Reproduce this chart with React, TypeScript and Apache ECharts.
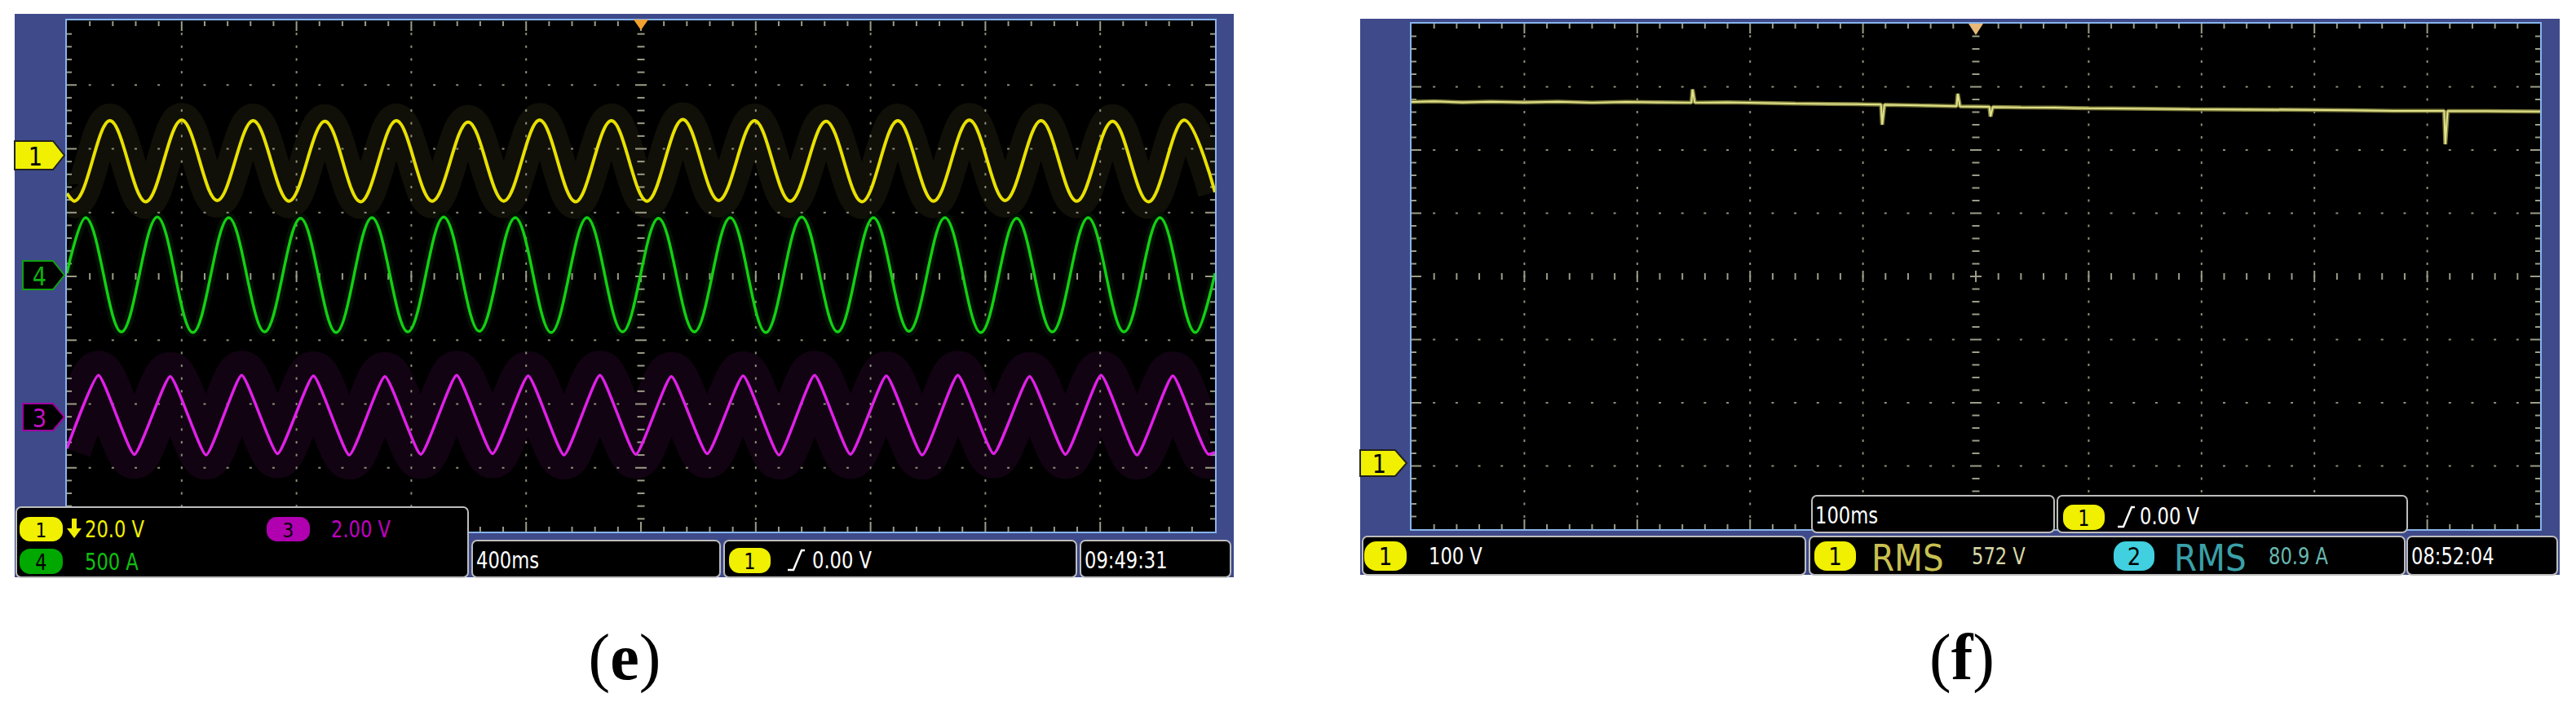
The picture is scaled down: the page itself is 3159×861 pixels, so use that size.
import React, { useEffect, useRef } from "react";
import * as echarts from "echarts";

// ---------- Panel (e): 400 ms/div (0..4000 ms), levels in screen divisions (centre = 0) ----------
const eTimeRange = [0, 4000];
const eDivRange = [-4, 4];

// Channel 1 (yellow, 20.0 V/div): start, then trough/peak extremes
const ch1Times = [0, 25, 150, 275, 400, 524, 649, 774, 899, 1023, 1148, 1273, 1398, 1522, 1647, 1772, 1897, 2021, 2146, 2271, 2396, 2520, 2645, 2770, 2895, 3019, 3144, 3269, 3394, 3518, 3643, 3768, 3893, 4000];
const ch1Levels = [1.3, 1.18, 2.44, 1.17, 2.45, 1.19, 2.44, 1.18, 2.43, 1.17, 2.44, 1.18, 2.42, 1.18, 2.45, 1.17, 2.44, 1.18, 2.46, 1.19, 2.44, 1.18, 2.43, 1.17, 2.44, 1.18, 2.45, 1.19, 2.44, 1.18, 2.43, 1.17, 2.45, 1.32];

// Channel 4 (green, 500 A/div)
const ch4Times = [0, 65, 190, 315, 439, 564, 689, 814, 938, 1063, 1188, 1313, 1437, 1562, 1687, 1812, 1936, 2061, 2186, 2311, 2435, 2560, 2685, 2810, 2934, 3059, 3184, 3309, 3433, 3558, 3683, 3808, 3932, 4000];
const ch4Levels = [0.05, 0.92, -0.87, 0.93, -0.88, 0.92, -0.87, 0.91, -0.88, 0.92, -0.87, 0.93, -0.86, 0.92, -0.88, 0.92, -0.87, 0.91, -0.87, 0.92, -0.88, 0.93, -0.87, 0.92, -0.86, 0.92, -0.88, 0.91, -0.87, 0.92, -0.87, 0.92, -0.88, 0.05];

// Channel 3 (magenta, 2.00 V/div)
const ch3Times = [0, 110, 235, 360, 485, 609, 734, 859, 984, 1108, 1233, 1358, 1483, 1607, 1732, 1857, 1982, 2106, 2231, 2356, 2481, 2605, 2730, 2855, 2980, 3104, 3229, 3354, 3479, 3603, 3728, 3853, 3978, 4000];
const ch3Levels = [-2.7, -1.55, -2.79, -1.57, -2.8, -1.55, -2.78, -1.56, -2.8, -1.57, -2.79, -1.55, -2.78, -1.56, -2.8, -1.55, -2.79, -1.57, -2.78, -1.56, -2.8, -1.55, -2.79, -1.56, -2.8, -1.55, -2.78, -1.57, -2.79, -1.55, -2.8, -1.56, -2.79, -2.76];

// ---------- Panel (f): 100 ms/div (0..1000 ms), channel 1 in volts (100 V/div, ground 2.94 div below centre) ----------
const fTimeRange = [0, 1000];
const fVoltRange = [-106, 694];
const fTimes = [0, 20, 45, 70, 100, 130, 160, 190, 220, 248, 249, 251, 280, 310, 340, 370, 395, 416, 417, 419, 450, 483, 484, 486, 512, 513, 515, 540, 570, 600, 640, 690, 740, 790, 833, 870, 915, 916, 918, 950, 1000];
const fVolts = [570, 571, 569.5, 570.5, 569.5, 570.5, 569, 570, 569.5, 569, 590, 569, 569.5, 568.5, 567.5, 567, 566.5, 566, 534, 565.5, 564.5, 563.5, 583, 563, 562.5, 547, 562, 561.5, 561, 560, 559.5, 558.5, 558, 557.5, 557, 556, 556, 503, 555.5, 555.5, 555];

// ---------- Texts ----------
const eScaleTexts = ["20.0 V", "2.00 V", "500 A"];
const eTimebase = "400ms";
const eTrigger = "0.00 V";
const eClock = "09:49:31";
const fScaleText = "100 V";
const fTimebase = "100ms";
const fTrigger = "0.00 V";
const fMeasure = ["RMS", "572 V", "RMS", "80.9 A"];
const fClock = "08:52:04";
const captions = ["e", "f"];

const SCOPE_FONT = "'DejaVu Sans', 'Liberation Sans', sans-serif";
const FRAME = "#3f4a8a";
const SCREEN_BORDER = "#88b4ea";

const pairs = (xs: number[], ys: number[]) => xs.map((x, i) => [x, ys[i]]);

function makeGraticule(xMin: number, xMax: number, yMin: number, yMax: number) {
  return (_params: any, api: any) => {
    const ch: any[] = [];
    const dot = "#8e8e78";
    const tick = "#9c9c88";
    const pt = (i: number, j: number) =>
      api.coord([xMin + ((xMax - xMin) * i) / 50, yMin + ((yMax - yMin) * j) / 40]);
    const r = (x: number, y: number, w: number, h: number, c: string) =>
      ch.push({ type: "rect", shape: { x, y, width: w, height: h }, style: { fill: c } });
    for (let i = 5; i < 50; i += 5) {
      if (i === 25) continue;
      for (let j = 1; j < 40; j++) {
        const p = pt(i, j);
        r(p[0] - 1, p[1] - 1.5, 2, 3, dot);
      }
    }
    for (let j = 5; j < 40; j += 5) {
      if (j === 20) continue;
      for (let i = 1; i < 50; i++) {
        if (i % 5 === 0) continue;
        const p = pt(i, j);
        r(p[0] - 1.5, p[1] - 1, 3, 2, dot);
      }
    }
    for (let i = 1; i < 50; i++) {
      const p = pt(i, 20);
      const L = i % 5 === 0 ? 14 : 8;
      r(p[0] - 1, p[1] - L / 2, 2, L, tick);
    }
    for (let j = 1; j < 40; j++) {
      const p = pt(25, j);
      const L = j % 5 === 0 ? 14 : 9;
      r(p[0] - L / 2, p[1] - 1, L, 2, tick);
    }
    for (let i = 1; i < 50; i++) {
      const L = i % 5 === 0 ? 12 : 6;
      const top = pt(i, 40);
      const bot = pt(i, 0);
      r(top[0] - 1, top[1], 2, L, tick);
      r(bot[0] - 1, bot[1] - L, 2, L, tick);
    }
    for (let j = 1; j < 40; j++) {
      const L = j % 5 === 0 ? 12 : 6;
      const lf = pt(0, j);
      const rt = pt(50, j);
      r(lf[0], lf[1] - 1, L, 2, tick);
      r(rt[0] - L, rt[1] - 1, L, 2, tick);
    }
    return { type: "group", children: ch };
  };
}

function txt(x: number, y: number, text: string, color: string, size = 29, sx = 0.78, align = "left") {
  return {
    type: "text",
    x,
    y,
    scaleX: sx,
    z: 12,
    silent: true,
    style: {
      text,
      fill: color,
      fontSize: size,
      fontFamily: SCOPE_FONT,
      align,
      verticalAlign: "middle",
      textAlign: align,
      textVerticalAlign: "middle",
    },
  };
}

function pill(x: number, y: number, w: number, h: number, fill: string, label: string) {
  return [
    { type: "rect", z: 11, silent: true, shape: { x, y, width: w, height: h, r: h * 0.42 }, style: { fill } },
    txt(x + w / 2, y + h / 2 + 1, label, "#000", h * 0.85, 0.85, "center"),
  ];
}

function panel(x: number, y: number, w: number, h: number) {
  return {
    type: "rect",
    z: 10,
    silent: true,
    shape: { x, y, width: w, height: h, r: 6 },
    style: { fill: "#000", stroke: "#bdbdbd", lineWidth: 2 },
  };
}

function tag(x0: number, y0: number, x1: number, y1: number, fill: string, stroke: string, label: string, color: string) {
  const ym = (y0 + y1) / 2;
  return [
    {
      type: "polygon",
      z: 11,
      silent: true,
      shape: { points: [[x0, y0], [x1 - 14, y0], [x1, ym], [x1 - 14, y1], [x0, y1]] },
      style: { fill, stroke, lineWidth: 2 },
    },
    txt(x0 + (x1 - 14 - x0) / 2 + 2, ym + 1, label, color, 32, 0.85, "center"),
  ];
}

function edge(x: number, yb: number, yt: number) {
  return {
    type: "polyline",
    z: 12,
    silent: true,
    shape: { points: [[x, yb], [x + 7, yb], [x + 17, yt], [x + 21, yt]] },
    style: { stroke: "#fff", lineWidth: 2.5, fill: null },
  };
}

function caption(cx: number, letter: string) {
  return {
    type: "text",
    x: cx,
    y: 806,
    z: 20,
    silent: true,
    style: {
      text: `{p|(}{b|${letter}}{p|)}`,
      align: "center",
      verticalAlign: "middle",
      textAlign: "center",
      textVerticalAlign: "middle",
      rich: {
        p: { fontSize: 80, fontFamily: "'Liberation Serif', serif", fill: "#000", color: "#000" },
        b: { fontSize: 80, fontFamily: "'Liberation Serif', serif", fontWeight: "bold", fill: "#000", color: "#000" },
      },
    },
  };
}

export default function App() {
  const ref = useRef<HTMLDivElement>(null);
  useEffect(() => {
    if (!ref.current) return;
    const chart = echarts.init(ref.current, undefined, { renderer: "svg" });

    const graphics: any[] = [
      // panel (e) frame + screen
      { type: "rect", z: 0, silent: true, shape: { x: 18, y: 17, width: 1495, height: 691 }, style: { fill: FRAME } },
      { type: "rect", z: 1, silent: true, shape: { x: 81, y: 24, width: 1410, height: 629 }, style: { fill: "#000" } },
      // frame strips covering glow overflow at the screen sides, then the screen border
      { type: "rect", z: 6, silent: true, shape: { x: 18, y: 17, width: 63, height: 636 }, style: { fill: FRAME } },
      { type: "rect", z: 6, silent: true, shape: { x: 1491, y: 17, width: 22, height: 646 }, style: { fill: FRAME } },
      { type: "rect", z: 7, silent: true, shape: { x: 81, y: 24, width: 1410, height: 629 }, style: { fill: "none", stroke: SCREEN_BORDER, lineWidth: 2 } },
      { type: "polygon", z: 12, silent: true, shape: { points: [[777, 24], [795, 24], [786, 37]] }, style: { fill: "#f0a030" } },
      ...tag(18, 173, 79, 208, "#f0f000", "#222", "1", "#000"),
      ...tag(28, 320, 79, 355, "#000", "#10a010", "4", "#10b010"),
      ...tag(28, 495, 79, 528, "#000", "#a000a0", "3", "#c010c0"),
      panel(20, 622, 554, 86),
      ...pill(24, 634, 53, 30, "#f0f000", "1"),
      { type: "polygon", z: 12, silent: true, shape: { points: [[88, 636], [94, 636], [94, 648], [100, 648], [91, 660], [82, 648], [88, 648]] }, style: { fill: "#f0f000" } },
      txt(104, 649, eScaleTexts[0], "#f0f000"),
      ...pill(327, 634, 53, 30, "#b000b0", "3"),
      txt(406, 649, eScaleTexts[1], "#c000c0"),
      ...pill(24, 673, 53, 31, "#00a800", "4"),
      txt(104, 689, eScaleTexts[2], "#10c010"),
      panel(579, 663, 304, 45),
      txt(584, 687, eTimebase, "#fff"),
      panel(888, 663, 432, 45),
      ...pill(894, 672, 51, 31, "#f0f000", "1"),
      edge(966, 699, 675),
      txt(996, 687, eTrigger, "#fff"),
      panel(1325, 663, 184, 45),
      txt(1330, 687, eClock, "#fff"),

      // panel (f) frame + screen
      { type: "rect", z: 0, silent: true, shape: { x: 1668, y: 23, width: 1471, height: 682 }, style: { fill: FRAME } },
      { type: "rect", z: 1, silent: true, shape: { x: 1730, y: 28, width: 1386, height: 622 }, style: { fill: "#000", stroke: SCREEN_BORDER, lineWidth: 2 } },
      { type: "polygon", z: 12, silent: true, shape: { points: [[2414, 29], [2432, 29], [2423, 43]] }, style: { fill: "#e8b878" } },
      ...tag(1668, 552, 1725, 584, "#f0f000", "#222", "1", "#000"),
      panel(2222, 608, 297, 45),
      txt(2226, 632, fTimebase, "#fff"),
      panel(2523, 608, 429, 45),
      ...pill(2530, 619, 51, 31, "#f0f000", "1"),
      edge(2597, 646, 622),
      txt(2624, 633, fTrigger, "#fff"),
      panel(1671, 658, 543, 47),
      ...pill(1673, 664, 52, 36, "#f0f000", "1"),
      txt(1752, 682, fScaleText, "#fff"),
      panel(2219, 658, 730, 47),
      ...pill(2225, 664, 51, 36, "#f0f000", "1"),
      txt(2295, 685, fMeasure[0], "#c8c050", 44, 0.92),
      txt(2418, 682, fMeasure[1], "#d8d8a8"),
      ...pill(2592, 664, 50, 36, "#40d0e0", "2"),
      txt(2666, 685, fMeasure[2], "#3aa0a8", 44, 0.92),
      txt(2782, 682, fMeasure[3], "#68b8b0"),
      panel(2952, 658, 184, 47),
      txt(2957, 682, fClock, "#fff"),

      caption(766, captions[0]),
      caption(2406, captions[1]),
    ];

    const lineBase = { type: "line", showSymbol: false, symbol: "none", silent: true, emphasis: { disabled: true } };

    chart.setOption({
      animation: false,
      backgroundColor: "#fff",
      grid: [
        { left: 82, top: 26, width: 1408, height: 626, show: false },
        { left: 1731, top: 29, width: 1384, height: 620, show: false },
      ],
      xAxis: [
        { type: "value", gridIndex: 0, min: eTimeRange[0], max: eTimeRange[1], show: false },
        { type: "value", gridIndex: 1, min: fTimeRange[0], max: fTimeRange[1], show: false },
      ],
      yAxis: [
        { type: "value", gridIndex: 0, min: eDivRange[0], max: eDivRange[1], show: false },
        { type: "value", gridIndex: 1, min: fVoltRange[0], max: fVoltRange[1], show: false },
      ],
      graphic: { elements: graphics },
      series: [
        // persistence glows
        { ...lineBase, name: "ch1 glow", xAxisIndex: 0, yAxisIndex: 0, z: 2, data: pairs(ch1Times, ch1Levels), smooth: 0.35, lineStyle: { color: "#101008", width: 42 } },
        { ...lineBase, name: "ch4 glow", xAxisIndex: 0, yAxisIndex: 0, z: 2, data: pairs(ch4Times, ch4Levels), smooth: 0.35, lineStyle: { color: "#031003", width: 12 } },
        { ...lineBase, name: "ch3 glow", xAxisIndex: 0, yAxisIndex: 0, z: 2, data: pairs(ch3Times, ch3Levels), smooth: 0.15, lineStyle: { color: "#110312", width: 60 } },
        // graticules
        { type: "custom", name: "grid e", xAxisIndex: 0, yAxisIndex: 0, z: 3, silent: true, clip: false, data: [[0, 0]], renderItem: makeGraticule(eTimeRange[0], eTimeRange[1], eDivRange[0], eDivRange[1]) },
        { type: "custom", name: "grid f", xAxisIndex: 1, yAxisIndex: 1, z: 3, silent: true, clip: false, data: [[0, 0]], renderItem: makeGraticule(fTimeRange[0], fTimeRange[1], fVoltRange[0], fVoltRange[1]) },
        // traces
        { ...lineBase, name: "ch1", xAxisIndex: 0, yAxisIndex: 0, z: 4, data: pairs(ch1Times, ch1Levels), smooth: 0.35, lineStyle: { color: "#e8e000", width: 4 } },
        { ...lineBase, name: "ch4", xAxisIndex: 0, yAxisIndex: 0, z: 4, data: pairs(ch4Times, ch4Levels), smooth: 0.35, lineStyle: { color: "#12d012", width: 3.5 } },
        { ...lineBase, name: "ch3", xAxisIndex: 0, yAxisIndex: 0, z: 4, data: pairs(ch3Times, ch3Levels), smooth: 0.15, lineStyle: { color: "#e020e8", width: 3.5 } },
        { ...lineBase, name: "f glow", xAxisIndex: 1, yAxisIndex: 1, z: 4, data: pairs(fTimes, fVolts), lineStyle: { color: "#7a7a3a", width: 5 } },
        { ...lineBase, name: "f ch1", xAxisIndex: 1, yAxisIndex: 1, z: 5, data: pairs(fTimes, fVolts), lineStyle: { color: "#e2e28c", width: 2 } },
      ],
    });
    return () => chart.dispose();
  }, []);

  return <div ref={ref} style={{ position: "absolute", left: 0, top: 0, width: 3159, height: 861 }} />;
}
